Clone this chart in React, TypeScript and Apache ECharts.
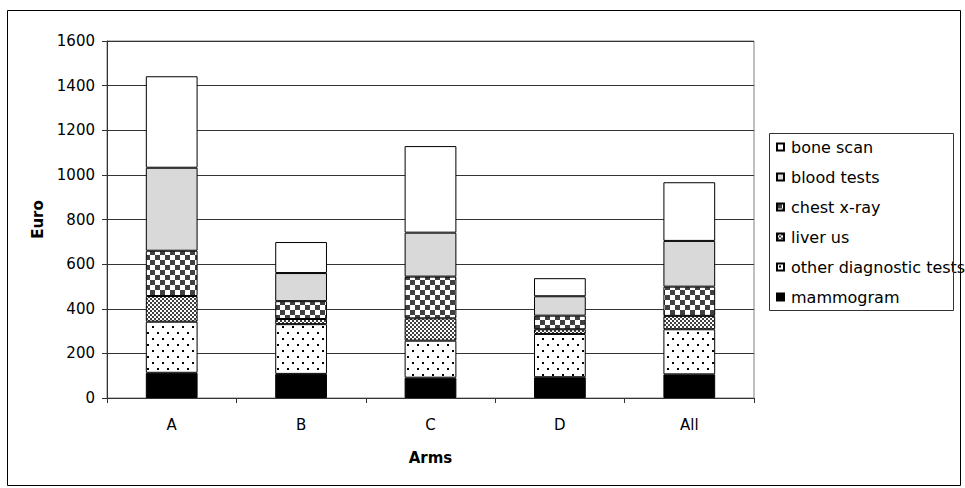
import React, { useEffect, useRef } from 'react';
import * as echarts from 'echarts';

const categories = ['A', 'B', 'C', 'D', 'All'];
const mammogram = [113, 108, 91, 93, 106];
const otherDiagnostic = [229, 223, 166, 194, 202];
const liverUs = [115, 23, 100, 21, 60];
const chestXray = [203, 80, 187, 61, 131];
const bloodTests = [372, 126, 197, 87, 205];
const boneScan = [410, 139, 388, 81, 263];

const seriesNames = ['mammogram', 'other diagnostic tests', 'liver us', 'chest x-ray', 'blood tests', 'bone scan'];
const legendOrder = ['bone scan', 'blood tests', 'chest x-ray', 'liver us', 'other diagnostic tests', 'mammogram'];

const FONT = 'DejaVu Sans';

function tile(w: number, h: number, draw: (ctx: CanvasRenderingContext2D) => void) {
  const c = document.createElement('canvas');
  c.width = w;
  c.height = h;
  const ctx = c.getContext('2d')!;
  ctx.fillStyle = '#ffffff';
  ctx.fillRect(0, 0, w, h);
  draw(ctx);
  return { image: c.toDataURL(), repeat: 'repeat', imageWidth: w, imageHeight: h } as any;
}

export default function App() {
  const ref = useRef<HTMLDivElement>(null);
  useEffect(() => {
    if (!ref.current) return;
    const chart = echarts.init(ref.current, undefined, { renderer: 'svg' });

    const dots = tile(10, 12, (ctx) => {
      ctx.fillStyle = '#000';
      ctx.fillRect(2, 2, 2, 2);
      ctx.fillRect(7, 8, 2, 2);
    });
    const fineChecker = tile(4, 4, (ctx) => {
      ctx.fillStyle = '#404040';
      ctx.fillRect(0, 0, 2, 2);
      ctx.fillRect(2, 2, 2, 2);
    });
    const bigChecker = tile(10, 10, (ctx) => {
      ctx.fillStyle = '#404040';
      ctx.fillRect(0, 0, 5, 5);
      ctx.fillRect(5, 5, 5, 5);
    });

    const fills: any[] = ['#000000', dots, fineChecker, bigChecker, '#d9d9d9', '#ffffff'];
    const values = [mammogram, otherDiagnostic, liverUs, chestXray, bloodTests, boneScan];

    chart.setOption({
      animation: false,
      backgroundColor: '#ffffff',
      grid: {
        left: 107,
        right: 211,
        top: 41,
        bottom: 90,
        show: true,
        borderColor: '#808080',
        borderWidth: 1,
      },
      legend: {
        orient: 'vertical',
        left: 769,
        top: 133,
        padding: [5, 5, 5, 7],
        itemWidth: 7,
        itemHeight: 7,
        itemGap: 12,
        selectedMode: false,
        icon: 'rect',
        data: legendOrder,
        textStyle: {
          fontFamily: FONT,
          fontSize: 16,
          lineHeight: 18,
          color: '#000',
          padding: [0, 0, 0, 2],
        },
      },
      xAxis: {
        type: 'category',
        data: categories,
        name: 'Arms',
        nameLocation: 'middle',
        nameGap: 52,
        nameTextStyle: { fontFamily: FONT, fontSize: 15, fontWeight: 'bold', color: '#000' },
        axisLine: { lineStyle: { color: '#333', width: 1 } },
        axisTick: { show: true, length: 5, inside: false, alignWithLabel: false, lineStyle: { color: '#333' } },
        axisLabel: { fontFamily: FONT, fontSize: 15, color: '#000', margin: 19 },
      },
      yAxis: {
        type: 'value',
        min: 0,
        max: 1600,
        interval: 200,
        name: 'Euro',
        nameLocation: 'middle',
        nameGap: 62,
        nameTextStyle: { fontFamily: FONT, fontSize: 15, fontWeight: 'bold', color: '#000' },
        axisLine: { show: true, lineStyle: { color: '#333', width: 1 } },
        axisTick: { show: true, length: 5, inside: false, lineStyle: { color: '#333' } },
        axisLabel: {
          fontFamily: FONT,
          fontSize: 15,
          color: '#000',
          margin: 12,
          formatter: (v: number) => String(v),
        },
        splitLine: { show: true, lineStyle: { color: '#333', width: 1 } },
      },
      series: seriesNames.map((name, i) => ({
        name,
        type: 'bar',
        stack: 'total',
        barWidth: '40%',
        data: values[i],
        itemStyle: { color: fills[i], borderColor: '#000', borderWidth: 1 },
        emphasis: { disabled: true },
      })),
      graphic: [
        {
          type: 'rect',
          shape: { x: 7.5, y: 10.5, width: 953, height: 475 },
          style: { fill: 'none', stroke: '#000', lineWidth: 1 },
          silent: true,
          z: 100,
        },
        {
          type: 'rect',
          shape: { x: 769.5, y: 133.5, width: 184, height: 177 },
          style: { fill: 'none', stroke: '#333', lineWidth: 1 },
          silent: true,
          z: 100,
        },
      ],
    });
    return () => chart.dispose();
  }, []);
  return (
    <div
      ref={ref}
      style={{ position: 'fixed', left: 0, top: 0, width: 965, height: 488, background: '#fff' }}
    />
  );
}
